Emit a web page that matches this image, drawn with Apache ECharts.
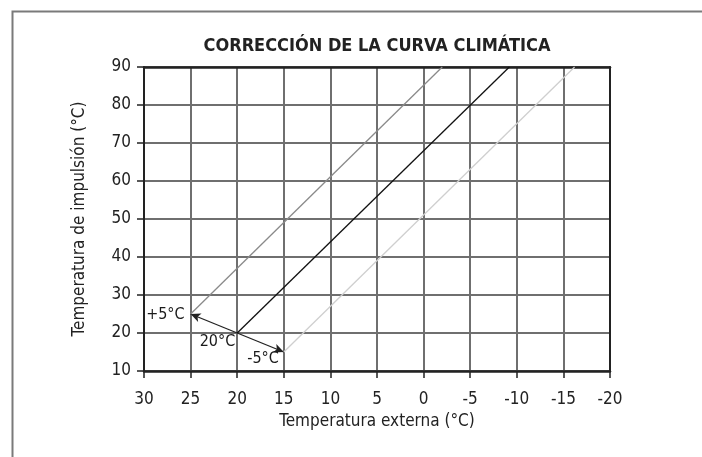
<!DOCTYPE html>
<html>
<head>
<meta charset="utf-8">
<script src="https://cdn.jsdelivr.net/npm/echarts@6/dist/echarts.min.js"></script>
<style>
  html, body { margin: 0; padding: 0; background: #fff; }
  #chart { width: 702px; height: 457px; }
</style>
</head>
<body>
<div id="chart"></div>
<script>
// Heating curve shifted by +5 °C / -5 °C around the 20 °C reference
const titleText = 'CORRECCIÓN DE LA CURVA CLIMÁTICA';
const xAxisName = 'Temperatura externa (°C)';
const yAxisName = 'Temperatura de impulsión (°C)';

const xTicks = [30, 25, 20, 15, 10, 5, 0, -5, -10, -15, -20];
const yTicks = [10, 20, 30, 40, 50, 60, 70, 80, 90];

// curve end points: [outside temperature, flow temperature]
const curvePlus5 = [[25, 25], [-2.0, 90]];
const curveRef = [[20, 20], [-9.2, 90]];
const curveMinus5 = [[15, 15], [-16.2, 90]];

// shift arrows and their labels
const shiftOrigin = [20, 20];
const shiftTargets = [[25, 25], [15, 15]];
const pointLabels = [
  { at: [25, 25], text: '+5°C', dx: -6, dy: 1 },
  { at: [20, 20], text: '20°C', dx: -2, dy: 9 },
  { at: [15, 15], text: '-5°C', dx: -5, dy: 7 }
];

const FONT = "'DejaVu Sans Condensed', 'Liberation Sans Narrow', sans-serif";

const chart = echarts.init(document.getElementById('chart'), null, { renderer: 'canvas' });

const xMin = Math.min(...xTicks), xMax = Math.max(...xTicks);
const yMin = Math.min(...yTicks), yMax = Math.max(...yTicks);

const gridLine = { show: true, lineStyle: { color: '#6f6f6f', width: 2 } };

chart.setOption({
  animation: false,
  backgroundColor: '#fff',
  title: {
    text: titleText,
    left: 372, top: 32, textAlign: 'center',
    textStyle: { fontFamily: FONT, fontWeight: 'bold', fontSize: 18, color: '#222' }
  },
  grid: { left: 144, right: 92, top: 67, bottom: 86 },
  xAxis: [{
    type: 'value', inverse: true, min: xMin, max: xMax, interval: 5,
    position: 'bottom',
    name: xAxisName, nameLocation: 'middle', nameGap: 42,
    nameTextStyle: { fontFamily: FONT, fontSize: 17, color: '#222' },
    axisLine: { show: true, onZero: false, lineStyle: { color: '#222', width: 2.5 } },
    axisTick: { show: true, length: 7, lineStyle: { color: '#222', width: 1.5 } },
    axisLabel: { fontFamily: FONT, fontSize: 17, color: '#222', margin: 20 },
    splitLine: gridLine
  }, {
    type: 'value', inverse: true, min: xMin, max: xMax, interval: 5,
    position: 'top',
    axisLine: { show: true, onZero: false, lineStyle: { color: '#222', width: 2.5 } },
    axisTick: { show: false }, axisLabel: { show: false }, splitLine: { show: false }
  }],
  yAxis: [{
    type: 'value', min: yMin, max: yMax, interval: 10,
    position: 'left',
    name: yAxisName, nameLocation: 'middle', nameGap: 56,
    nameTextStyle: { fontFamily: FONT, fontSize: 17, color: '#222' },
    axisLine: { show: true, onZero: false, lineStyle: { color: '#222', width: 2 } },
    axisTick: { show: true, length: 7, lineStyle: { color: '#222', width: 1.5 } },
    axisLabel: { fontFamily: FONT, fontSize: 17, color: '#222', margin: 13 },
    splitLine: gridLine
  }, {
    type: 'value', min: yMin, max: yMax, interval: 10,
    position: 'right',
    axisLine: { show: true, onZero: false, lineStyle: { color: '#222', width: 2 } },
    axisTick: { show: false }, axisLabel: { show: false }, splitLine: { show: false }
  }],
  series: [
    {
      name: '+5°C', type: 'line', data: curvePlus5, symbol: 'none',
      lineStyle: { color: '#8a8a8a', width: 1.3 }, z: 5
    },
    {
      name: '20°C', type: 'line', data: curveRef, symbol: 'none',
      lineStyle: { color: '#111', width: 1.3 }, z: 5,
      markLine: {
        silent: true,
        symbol: ['none', 'arrow'], symbolSize: [7, 10],
        lineStyle: { color: '#222', width: 1.3, type: 'solid' },
        label: { show: false },
        data: shiftTargets.map(t => [{ coord: shiftOrigin }, { coord: t }])
      }
    },
    {
      name: '-5°C', type: 'line', data: curveMinus5, symbol: 'none',
      lineStyle: { color: '#cfcfcf', width: 1.3 }, z: 5
    },
    {
      type: 'scatter', symbol: 'circle', symbolSize: 0.01, z: 6, silent: true,
      itemStyle: { color: '#222', opacity: 1 },
      data: pointLabels.map(p => ({
        value: p.at,
        label: {
          show: true, position: 'left', distance: 0, offset: [p.dx, p.dy],
          formatter: p.text, fontFamily: FONT, fontSize: 16, color: '#1a1a1a',
          opacity: 1
        }
      }))
    }
  ],
  graphic: [{
    type: 'rect', left: 10, top: 9, z: 0,
    shape: { width: 700, height: 460 },
    style: { fill: 'none', stroke: '#7a7a7a', lineWidth: 2 }
  }]
});
</script>
</body>
</html>
